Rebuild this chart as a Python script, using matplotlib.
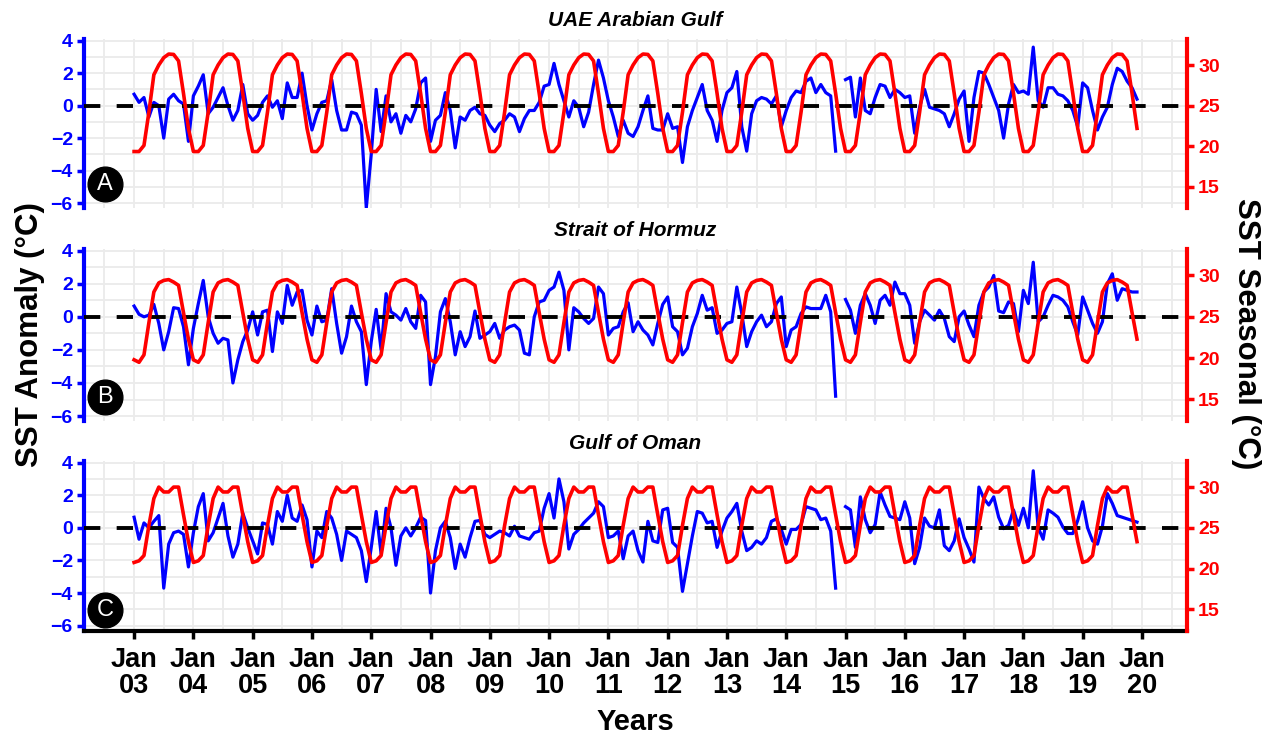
import numpy as np
import matplotlib.pyplot as plt

plt.rcParams['font.family'] = ['Liberation Sans', 'DejaVu Sans']
plt.rcParams['font.weight'] = 'bold'

regions = ['UAE Arabian Gulf', 'Strait of Hormuz', 'Gulf of Oman']
panel_tags = ['A', 'B', 'C']
years = np.arange(2003, 2020)
tick_years = np.arange(2003, 2021)
tick_labels = ['Jan\n%02d' % (y % 100) for y in tick_years]

# monthly SST anomaly, Jan 2003 - Dec 2019 (Dec 2014 missing)
nan = np.nan
anom_uae = [
    0.7, 0.2, 0.5, -0.7, 0.2, 0.0, -2.0, 0.4, 0.7, 0.3, 0.1, -2.2,
    0.6, 1.2, 1.9, -0.5, -0.1, 0.5, 1.1, 0.0, -0.9, -0.3, 1.3, -0.5,
    -0.9, -0.6, 0.2, 0.6, -0.1, 0.3, -0.8, 1.4, 0.5, 0.5, 2.0, 0.0,
    -1.5, -0.5, 0.2, 0.3, 1.6, -0.3, -1.5, -1.5, -0.4, -0.5, -1.2, -6.3,
    -3.0, 1.0, -1.6, 0.6, -1.0, -0.5, -1.7, -0.6, -1.0, -0.2, 1.4, 1.7,
    -2.2, -0.9, -0.6, 0.8, -0.3, -2.6, -0.7, -0.9, -0.3, -0.1, -0.5, -0.6,
    -1.2, -1.6, -1.1, -0.9, -0.5, -0.7, -1.6, -0.8, -0.3, -0.3, 0.2, 1.2,
    1.3, 2.6, 1.3, 0.3, -0.7, 0.3, -0.1, -1.3, -0.4, 1.3, 2.8, 1.7,
    0.3, -0.7, -1.9, -0.9, -1.7, -1.9, -1.3, -0.3, 0.6, -1.4, -1.5, -1.5,
    -0.5, -1.4, -1.3, -3.5, -1.3, -0.3, 0.5, 1.3, -0.3, -0.9, -2.2, -0.3,
    0.8, 1.1, 2.1, -1.3, -2.8, -0.5, 0.3, 0.5, 0.4, 0.1, 0.6, -1.3,
    -0.3, 0.5, 0.9, 0.8, 1.5, 1.7, 0.8, 1.3, 0.8, 0.6, -2.8, nan,
    1.6, 1.75, -0.7, 1.7, -0.3, -0.5, 0.5, 1.3, 1.2, 0.5, 1.0, 0.8,
    0.5, 0.6, -1.7, -0.1, 1.0, -0.1, -0.2, -0.3, -0.5, -1.3, -0.5, 0.4,
    0.9, -2.2, 0.5, 2.1, 2.0, 1.3, 0.5, -0.3, -2.0, 0.1, 1.3, 0.8,
    0.9, 0.7, 3.6, 0.3, -0.1, 1.1, 1.1, 0.7, 0.6, 0.3, -0.3, -1.3,
    1.4, 1.1, -0.3, -1.5, -0.7, -0.1, 1.3, 2.3, 2.1, 1.5, 1.1, 0.4,
]
anom_hormuz = [
    0.65, 0.15, 0.0, 0.1, 0.75, -0.4, -2.0, -0.9, 0.55, 0.5, -0.6, -2.9,
    -0.7, 0.8, 2.2, 0.0, -1.0, -1.6, -1.3, -1.4, -4.0, -2.6, -1.5, -0.8,
    0.3, -1.1, 0.3, 0.4, -2.1, 0.3, -0.4, 1.9, 0.7, 1.5, 1.6, -0.2,
    -1.1, 0.65, -0.3, -0.2, 1.7, -0.4, -2.2, -1.2, 0.65, -0.3, -0.9, -4.1,
    -1.5, 0.45, -2.0, 1.4, 0.3, 0.1, -0.2, 0.5, -0.3, -0.7, 1.3, 0.9,
    -4.1, -2.4, 0.3, 1.1, -0.3, -2.3, -0.9, -1.8, -1.2, 0.35, -1.3, -1.1,
    -0.9, -0.4, -1.3, -0.8, -0.6, -0.5, -0.8, -2.2, -2.3, 0.0, 0.9, 1.0,
    1.6, 1.8, 2.7, 1.6, -2.0, 0.55, 0.3, -0.1, -0.4, -0.1, 1.8, 1.4,
    -1.1, -0.7, -0.6, 0.3, 0.85, -0.9, -0.3, -0.8, -1.1, -1.7, -0.4, 0.75,
    1.2, -0.6, -0.9, -2.3, -1.9, -0.6, 0.2, 1.3, 0.4, 0.55, -1.0, -0.8,
    -0.4, -0.3, 1.8, 0.2, -1.8, -0.9, -0.3, 0.1, -0.6, -0.3, 0.8, 1.2,
    -1.8, -0.8, -0.6, 0.2, 0.6, 0.5, 0.5, 0.5, 1.3, 0.3, -4.8, nan,
    1.05, 0.4, -1.0, 0.7, 1.4, 0.7, -0.4, 1.0, 1.3, 0.7, 2.1, 1.4,
    1.4, 0.7, -1.6, -0.3, 0.4, 0.1, -0.2, 0.4, -0.1, -1.2, -1.5, 0.0,
    0.35, -0.5, -1.2, 0.7, 1.5, 1.8, 2.5, 0.35, 0.25, 0.9, 0.8, -0.9,
    1.6, 0.8, 3.3, -0.3, 0.0, 0.7, 1.3, 1.2, 1.0, 0.6, -0.3, -1.1,
    1.2, 0.4, -0.4, -1.0, -0.3, 2.0, 2.6, 1.0, 1.7, 1.6, 1.5, 1.5,
]
anom_oman = [
    0.65, -0.7, 0.3, 0.0, 0.4, 0.75, -3.7, -1.0, -0.3, -0.2, -0.4, -2.4,
    -0.3, 1.3, 2.1, -0.8, -0.3, 0.6, 1.5, -0.5, -1.8, -1.0, 0.9, 0.0,
    -0.8, -1.6, 0.3, 0.2, -1.0, 1.0, 0.4, 2.0, 0.6, 0.4, 1.4, 0.5,
    -2.4, -0.2, -0.6, 1.0, 0.6, -0.4, -2.0, -0.2, -0.4, -0.6, -1.4, -3.3,
    -1.2, 1.0, -1.6, 1.2, 0.0, -2.3, -0.5, 0.0, -0.5, 0.0, 0.65, 0.45,
    -4.0, -1.4, 0.0, 0.4, -0.6, -2.5, -1.0, -1.8, -0.6, 0.4, 0.45, -0.4,
    -0.6, -0.4, -0.2, -0.3, -0.5, 0.1, -0.5, -0.6, -0.7, -0.3, -0.2, 1.2,
    2.1, 0.6, 3.0, 1.6, -1.3, -0.4, -0.1, 0.3, 0.6, 0.9, 1.6, 1.3,
    -0.6, -0.5, -0.2, -1.9, -0.5, -0.2, -1.4, -2.1, 0.4, -0.8, -0.9, 1.1,
    1.2, -0.9, -1.2, -3.9, -2.2, -0.5, 1.0, 0.9, 0.3, 0.4, -1.2, -0.2,
    0.6, 1.0, 1.5, -0.2, -1.4, -1.2, -0.8, -1.0, -0.6, 0.4, 0.55, -0.1,
    -1.0, -0.1, -0.1, 0.2, 1.3, 1.2, 1.1, 0.5, 0.6, -0.2, -3.7, nan,
    1.3, 1.1, -1.2, 1.9, 0.5, -0.3, 0.2, 2.2, 1.4, 0.7, 0.6, 0.5,
    1.6, 0.6, -2.2, -1.2, 0.6, 0.1, 0.0, 1.1, -1.1, -1.4, -0.8, 0.55,
    -0.6, -1.3, -2.1, 2.5, 1.8, 1.4, 1.9, 0.65, -0.05, 0.15, 1.1, 0.15,
    1.2, 0.0, 3.5, 0.0, -0.7, 1.1, 0.9, 0.65, 0.05, -0.35, -0.35, 0.45,
    1.6, 0.0, -0.8, -1.0, 0.1, 2.1, 1.5, 0.75, 0.65, 0.55, 0.45, 0.35,
]

# seasonal SST (monthly climatology, Jan..Dec), repeated every year
clim_uae = [19.35, 19.35, 20.1, 24.2, 28.8, 30.0, 30.9, 31.35, 31.3, 30.5, 26.5, 22.2]
clim_hormuz = [19.8, 19.5, 20.4, 24.3, 28.0, 29.1, 29.4, 29.5, 29.2, 28.8, 25.5, 22.3]
clim_oman = [20.75, 20.95, 21.6, 25.3, 28.6, 30.0, 29.4, 29.4, 30.0, 30.0, 26.6, 23.3]

anomalies = [anom_uae, anom_hormuz, anom_oman]
climatologies = [clim_uae, clim_hormuz, clim_oman]

t = years[0] + np.arange(len(years) * 12) / 12.0

W, H = 1265, 737
fig = plt.figure(figsize=(W / 100, H / 100), dpi=100)

# panel boxes in pixels: (top, bottom)
boxes = [(39, 208), (249, 421), (461, 630.5)]
left_px, right_px = 84, 1187
tag_y = [-4.85, -4.85, -5.05]

for i, (name, tag, anom, clim) in enumerate(zip(regions, panel_tags, anomalies, climatologies)):
    top, bot = boxes[i]
    ax = fig.add_axes([left_px / W, 1 - bot / H, (right_px - left_px) / W, (bot - top) / H])
    seasonal = np.tile(clim, len(years))

    ax.set_xlim(2002.155, 2020.76)
    ax.set_ylim(-6.3, 4.1)
    ax.set_xticks(tick_years)
    ax.set_xticks(np.arange(2002.5, 2021, 1.0), minor=True)
    ax.set_yticks(np.arange(-6, 5, 2))
    ax.set_yticks(np.arange(-5, 4, 2), minor=True)
    ax.grid(which='both', color='#EBEBEB', lw=1.3)
    ax.set_axisbelow(True)

    ax.plot(t, anom, color='#0000FF', lw=2.3, zorder=3)
    ax.axhline(0, color='black', lw=2.8, dashes=(4.2, 4.2), zorder=4)

    ax2 = ax.twinx()
    ax2.set_ylim(25 + 2 * -6.3, 25 + 2 * 4.1)
    ax2.set_yticks([15, 20, 25, 30])
    ax2.plot(t, seasonal, color='#FF0000', lw=2.6)

    for s in ['top', 'right', 'bottom']:
        ax.spines[s].set_visible(False)
    for s in ['top', 'left', 'bottom']:
        ax2.spines[s].set_visible(False)
    ax.spines['left'].set_color('#0000FF')
    ax.spines['left'].set_linewidth(3)
    ax2.spines['right'].set_color('#FF0000')
    ax2.spines['right'].set_linewidth(3)

    ax.tick_params(axis='y', which='major', colors='#0000FF', length=5, width=2.5,
                   labelsize=14, pad=3)
    ax.tick_params(axis='y', which='minor', length=0)
    ax2.tick_params(axis='y', colors='#FF0000', length=5, width=2.5, labelsize=14, pad=3)

    if i == 2:
        ax.spines['bottom'].set_visible(True)
        ax.spines['bottom'].set_color('black')
        ax.spines['bottom'].set_linewidth(3)
        ax.set_xticklabels(tick_labels, fontsize=19.5, linespacing=1.0)
        ax.tick_params(axis='x', which='major', length=6, width=2.5, pad=6)
        ax.tick_params(axis='x', which='minor', length=0)
    else:
        ax.tick_params(axis='x', which='both', length=0, labelbottom=False)

    # circled panel letter
    ax.plot(2002.51, tag_y[i], 'o', ms=25, color='black', zorder=6, clip_on=False)
    ax.text(2002.51, tag_y[i], tag, color='white', fontsize=17, fontweight='normal',
            ha='center', va='center', zorder=7)

    fig.text((left_px + right_px) / 2 / W, 1 - (top - 18) / H, name, fontsize=15,
             fontstyle='italic', ha='center', va='center')

fig.text(30 / W, 1 - 335 / H, 'SST Anomaly (°C)', fontsize=22.5, rotation=90,
         ha='center', va='center')
fig.text(1246 / W, 1 - 334 / H, 'SST Seasonal (°C)', fontsize=22.5, rotation=270,
         ha='center', va='center')
fig.text((left_px + right_px) / 2 / W, 1 - 722 / H, 'Years', fontsize=21,
         ha='center', va='center')

fig.savefig('out.png', dpi=100)
